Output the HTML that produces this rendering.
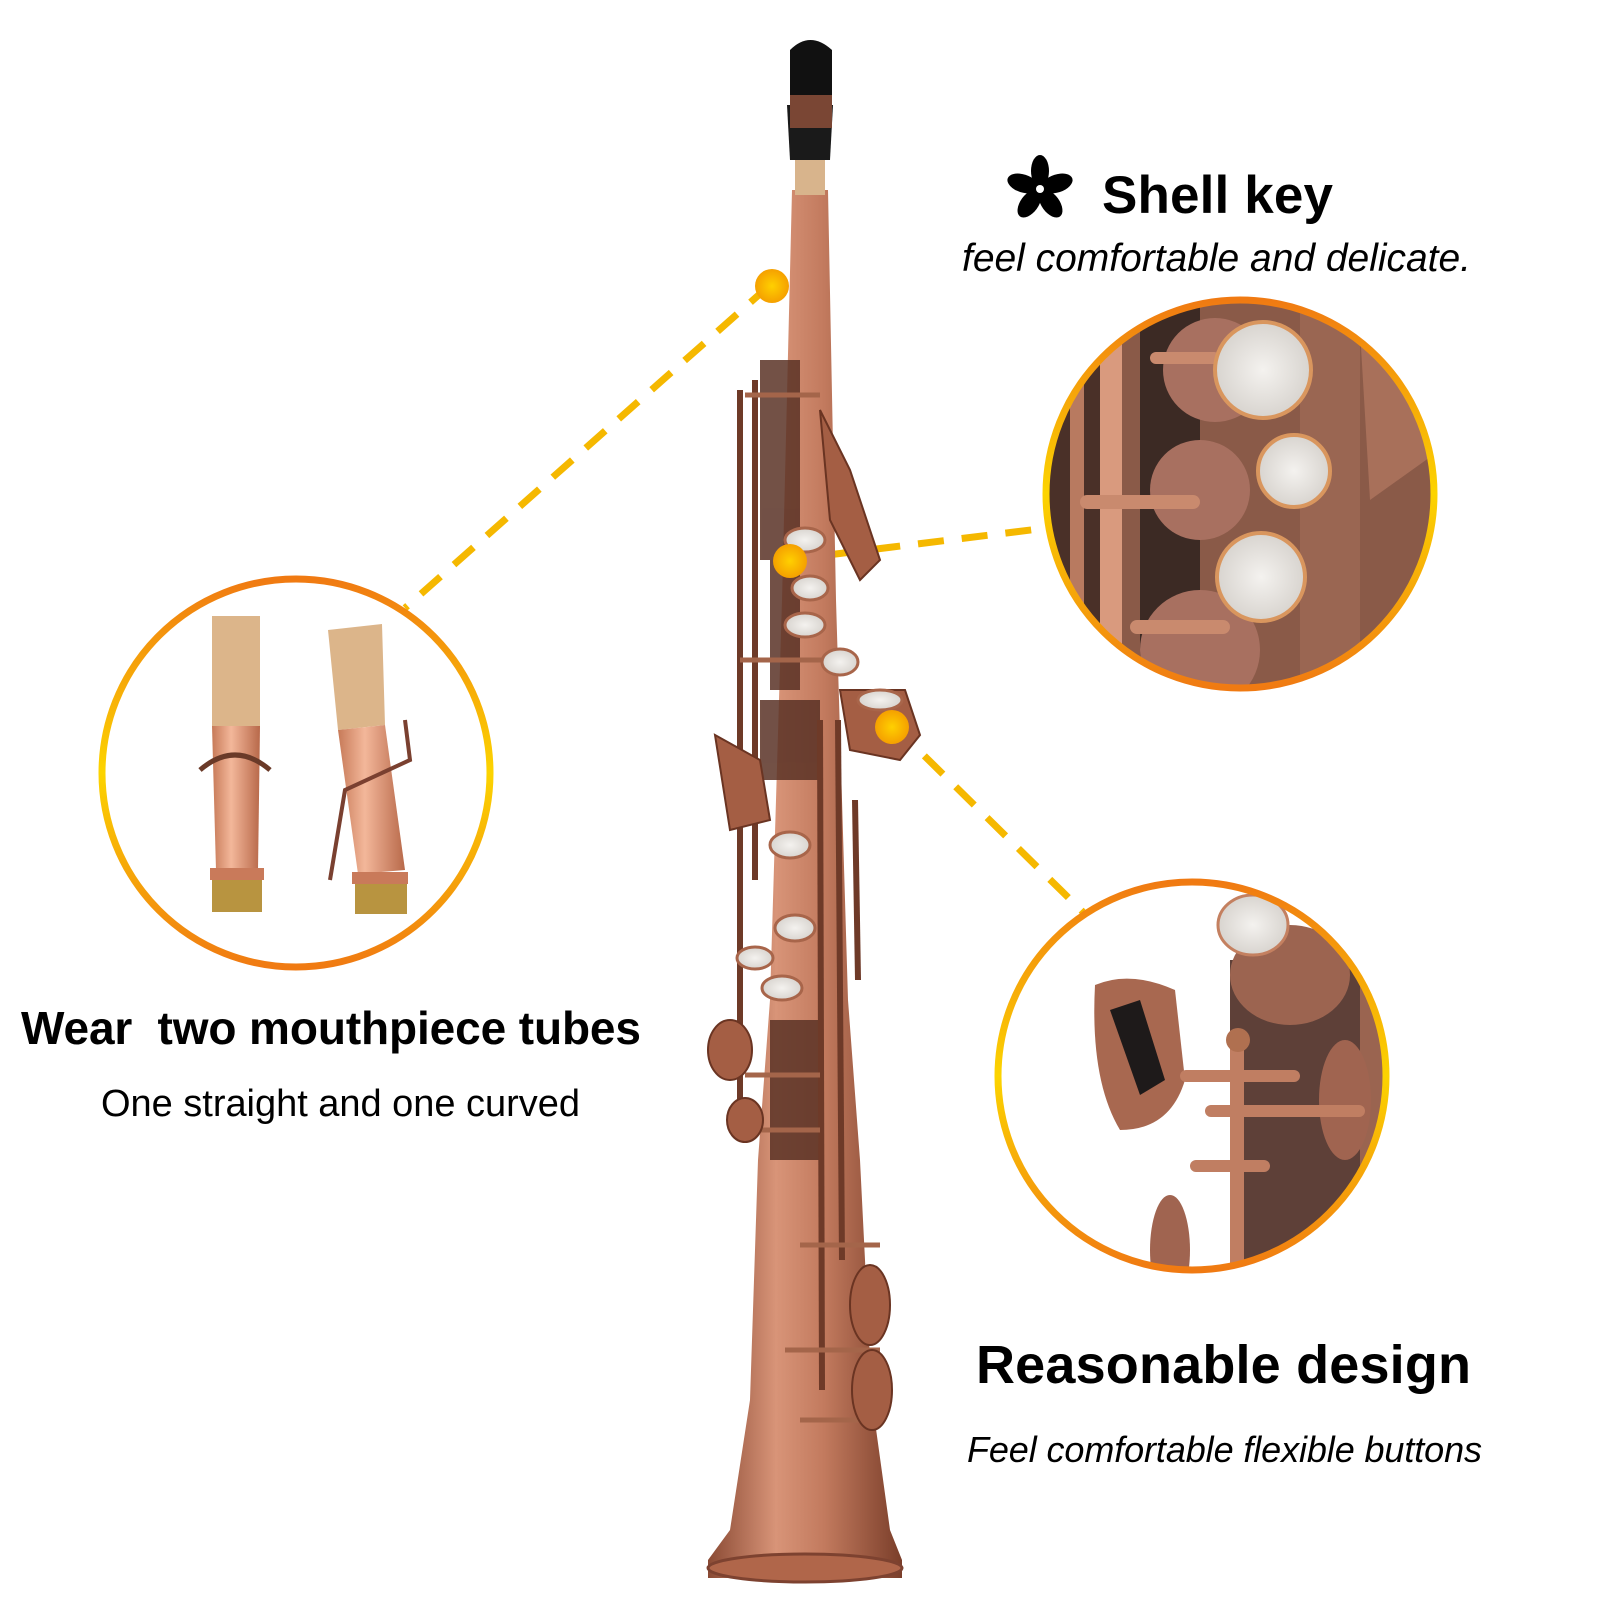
<!DOCTYPE html>
<html><head><meta charset="utf-8"><style>
html,body{margin:0;padding:0;background:#fff;}
svg{display:block;}
text{font-family:"Liberation Sans",Arial,sans-serif;fill:#000;}
</style></head><body>
<svg width="1600" height="1600" viewBox="0 0 1600 1600" xmlns="http://www.w3.org/2000/svg">
<defs>
<linearGradient id="ring" x1="0" y1="0" x2="0" y2="1">
<stop offset="0" stop-color="#f07a12"/><stop offset="0.5" stop-color="#fcd400"/><stop offset="1" stop-color="#f07a12"/>
</linearGradient>
<linearGradient id="cop" x1="0" y1="0" x2="1" y2="0">
<stop offset="0" stop-color="#8a4a34"/><stop offset="0.35" stop-color="#d89478"/><stop offset="0.6" stop-color="#c27a5e"/><stop offset="1" stop-color="#7a3e2a"/>
</linearGradient>
<linearGradient id="cop2" x1="0" y1="0" x2="1" y2="0">
<stop offset="0" stop-color="#c77a58"/><stop offset="0.4" stop-color="#f3b79a"/><stop offset="1" stop-color="#b8694a"/>
</linearGradient>
<radialGradient id="dot"><stop offset="0" stop-color="#ffd000"/><stop offset="1" stop-color="#f5a000"/></radialGradient>
<radialGradient id="pearl"><stop offset="0" stop-color="#f4f2ef"/><stop offset="1" stop-color="#d8d4cf"/></radialGradient>
<clipPath id="c1"><circle cx="1240" cy="494" r="193"/></clipPath>
<clipPath id="c2"><circle cx="1192" cy="1076" r="193"/></clipPath>
</defs>

<g stroke="#f5b800" stroke-width="7" stroke-dasharray="26,18" fill="none">
<line x1="770" y1="285" x2="405" y2="608"/>
<line x1="787" y1="560" x2="1047" y2="528"/>
<line x1="893" y1="725" x2="1083" y2="912"/>
</g>

<!-- saxophone -->
<g>
<path d="M792 190 L828 190 L836 600 L848 1000 L860 1160 L872 1400 L890 1530 L902 1560 L902 1578 L708 1578 L708 1560 L730 1530 L750 1400 L758 1160 L770 1000 L782 600 Z" fill="url(#cop)"/>
<ellipse cx="805" cy="1568" rx="97" ry="14" fill="#b0664a" stroke="#7d4230" stroke-width="3"/>
<rect x="795" y="150" width="30" height="45" fill="#d8b48c"/>
<path d="M787 105 L833 105 L830 160 L790 160 Z" fill="#1a1a1a"/>
<rect x="790" y="88" width="42" height="40" fill="#7a4634"/>
<path d="M790 50 Q810 30 832 50 L832 95 L790 95 Z" fill="#111"/>
<!-- dark keywork mass -->
<g fill="#5a3226" opacity="0.85">
<rect x="760" y="360" width="40" height="200"/>
<rect x="770" y="560" width="30" height="130"/>
<rect x="760" y="700" width="60" height="80"/>
<rect x="770" y="1020" width="50" height="140"/>
</g>
<g fill="none" stroke="#6e3a28" stroke-width="6">
<line x1="740" y1="390" x2="740" y2="1100"/>
<line x1="755" y1="380" x2="755" y2="880"/>
<line x1="820" y1="720" x2="822" y2="1390"/>
<line x1="838" y1="720" x2="842" y2="1260"/>
<line x1="855" y1="800" x2="858" y2="980"/>
</g>
<g stroke="#a4654a" stroke-width="5">
<line x1="745" y1="395" x2="820" y2="395"/>
<line x1="740" y1="660" x2="830" y2="660"/>
<line x1="745" y1="1075" x2="820" y2="1075"/>
<line x1="730" y1="1130" x2="820" y2="1130"/>
<line x1="800" y1="1245" x2="880" y2="1245"/>
<line x1="785" y1="1350" x2="880" y2="1350"/>
<line x1="800" y1="1420" x2="880" y2="1420"/>
</g>
<g fill="#a45e44" stroke="#6a3422" stroke-width="2">
<path d="M820 410 L850 470 L880 560 L860 580 L830 520 Z"/>
<path d="M840 690 L905 690 L920 735 L900 760 L850 750 Z"/>
<ellipse cx="730" cy="1050" rx="22" ry="30"/>
<ellipse cx="745" cy="1120" rx="18" ry="22"/>
<ellipse cx="870" cy="1305" rx="20" ry="40"/>
<ellipse cx="872" cy="1390" rx="20" ry="40"/>
<path d="M715 735 L760 760 L770 820 L730 830 Z"/>
</g>
<g fill="url(#pearl)" stroke="#a8654a" stroke-width="3">
<ellipse cx="805" cy="540" rx="20" ry="12"/>
<ellipse cx="810" cy="588" rx="18" ry="12"/>
<ellipse cx="805" cy="625" rx="20" ry="12"/>
<ellipse cx="840" cy="662" rx="18" ry="13"/>
<ellipse cx="880" cy="700" rx="22" ry="10"/>
<ellipse cx="790" cy="845" rx="20" ry="13"/>
<ellipse cx="795" cy="928" rx="20" ry="13"/>
<ellipse cx="755" cy="958" rx="18" ry="11"/>
<ellipse cx="782" cy="988" rx="20" ry="12"/>
</g>
</g>

<circle cx="772" cy="286" r="17" fill="url(#dot)"/>
<circle cx="790" cy="561" r="17" fill="url(#dot)"/>
<circle cx="892" cy="727" r="17" fill="url(#dot)"/>

<!-- left circle -->
<circle cx="296" cy="773" r="194" fill="#fff" stroke="url(#ring)" stroke-width="7"/>
<rect x="212" y="616" width="48" height="110" fill="#dcb58a"/>
<path d="M212 726 L260 726 L258 870 L216 870 Z" fill="url(#cop2)"/>
<rect x="210" y="868" width="54" height="12" fill="#c97a5a"/>
<rect x="212" y="880" width="50" height="32" fill="#b89440"/>
<path d="M200 770 Q235 740 270 770" stroke="#6a3a28" stroke-width="5" fill="none"/>
<path d="M328 630 L382 624 L385 725 L338 730 Z" fill="#dcb58a"/>
<path d="M338 730 L385 725 L405 870 L358 874 Z" fill="url(#cop2)"/>
<rect x="352" y="872" width="56" height="12" fill="#c97a5a"/>
<rect x="355" y="884" width="52" height="30" fill="#b89440"/>
<path d="M405 720 L410 760 L345 790 L330 880" stroke="#7a4030" stroke-width="4" fill="none"/>

<!-- top right circle -->
<circle cx="1240" cy="494" r="194" fill="#fff"/>
<g clip-path="url(#c1)">
<rect x="1040" y="290" width="400" height="410" fill="#8a5a48"/>
<rect x="1040" y="290" width="60" height="410" fill="#4a3028"/>
<rect x="1100" y="300" width="22" height="400" fill="#d99a7e"/>
<rect x="1070" y="310" width="14" height="390" fill="#b87a60"/>
<rect x="1140" y="290" width="60" height="410" fill="#3c2a24"/>
<rect x="1300" y="290" width="60" height="410" fill="#9a6652"/>
<path d="M1360 330 L1440 380 L1440 450 L1370 500 Z" fill="#a8705a"/>
<circle cx="1215" cy="370" r="52" fill="#a87060"/>
<circle cx="1200" cy="490" r="50" fill="#a87060"/>
<circle cx="1200" cy="650" r="60" fill="#a87060"/>
<rect x="1080" y="495" width="120" height="14" rx="7" fill="#c98a6e"/>
<rect x="1130" y="620" width="100" height="14" rx="7" fill="#c98a6e"/>
<rect x="1150" y="352" width="70" height="12" rx="6" fill="#c98a6e"/>
<circle cx="1263" cy="370" r="48" fill="url(#pearl)" stroke="#d9965e" stroke-width="4"/>
<circle cx="1294" cy="471" r="36" fill="url(#pearl)" stroke="#d9965e" stroke-width="4"/>
<circle cx="1261" cy="577" r="44" fill="url(#pearl)" stroke="#d9965e" stroke-width="4"/>
</g>
<circle cx="1240" cy="494" r="194" fill="none" stroke="url(#ring)" stroke-width="7"/>

<!-- bottom right circle -->
<circle cx="1192" cy="1076" r="194" fill="#fff"/>
<g clip-path="url(#c2)">
<rect x="1230" y="960" width="180" height="330" fill="#5e4038"/>
<rect x="1360" y="960" width="40" height="330" fill="#9a6450"/>
<ellipse cx="1290" cy="975" rx="60" ry="50" fill="#9c6450"/>
<ellipse cx="1253" cy="925" rx="35" ry="30" fill="url(#pearl)" stroke="#c48060" stroke-width="3"/>
<ellipse cx="1345" cy="1100" rx="26" ry="60" fill="#a06450"/>
<path d="M1095 985 Q1130 970 1175 990 L1185 1080 Q1170 1130 1120 1130 Q1090 1080 1095 985 Z" fill="#a86850"/>
<path d="M1110 1010 L1140 1000 L1165 1080 L1140 1095 Z" fill="#1e1a1a"/>
<rect x="1230" y="1040" width="14" height="240" fill="#c07e62"/>
<rect x="1180" y="1070" width="120" height="12" rx="6" fill="#c07e62"/>
<rect x="1205" y="1105" width="160" height="12" rx="6" fill="#c07e62"/>
<rect x="1190" y="1160" width="80" height="12" rx="6" fill="#c07e62"/>
<circle cx="1238" cy="1040" r="12" fill="#b07050"/>
<ellipse cx="1170" cy="1250" rx="20" ry="55" fill="#a06450"/>
</g>
<circle cx="1192" cy="1076" r="194" fill="none" stroke="url(#ring)" stroke-width="7"/>

<g transform="translate(1040,189)" fill="#000">
<ellipse cx="0" cy="-18" rx="9" ry="16"/>
<ellipse cx="0" cy="-18" rx="9" ry="16" transform="rotate(72)"/>
<ellipse cx="0" cy="-18" rx="9" ry="16" transform="rotate(144)"/>
<ellipse cx="0" cy="-18" rx="9" ry="16" transform="rotate(216)"/>
<ellipse cx="0" cy="-18" rx="9" ry="16" transform="rotate(288)"/>
<circle r="4" fill="#fff"/>
</g>

<text x="1102" y="213" font-size="53" font-weight="bold" textLength="231" lengthAdjust="spacing">Shell key</text>
<text x="962" y="271" font-size="39" font-style="italic" textLength="509" lengthAdjust="spacing">feel comfortable and delicate.</text>
<text x="21" y="1044" font-size="46" font-weight="bold" textLength="620" lengthAdjust="spacing" xml:space="preserve">Wear  two mouthpiece tubes</text>
<text x="101" y="1116" font-size="38" textLength="479" lengthAdjust="spacing">One straight and one curved</text>
<text x="976" y="1383" font-size="54" font-weight="bold" textLength="495" lengthAdjust="spacing">Reasonable design</text>
<text x="967" y="1462" font-size="36" font-style="italic" textLength="515" lengthAdjust="spacing">Feel comfortable flexible buttons</text>
</svg>
</body></html>
